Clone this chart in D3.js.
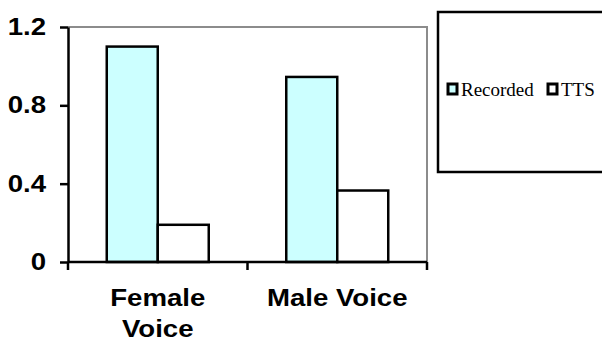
<!DOCTYPE html>
<html>
<head>
<meta charset="utf-8">
<script src="https://cdn.jsdelivr.net/npm/d3@7"></script>
<style>
  html, body { margin: 0; padding: 0; background: #fff; }
  svg { display: block; }
</style>
</head>
<body>
<svg id="chart" width="602" height="349"></svg>
<script>
// Mean scores per voice, for recorded speech and synthesized (TTS) speech
const categories = ["Female Voice", "Male Voice"];
const categoryLines = [["Female", "Voice"], ["Male Voice"]];
const seriesNames = ["Recorded", "TTS"];
const recordedValues = [1.10, 0.945];
const ttsValues = [0.19, 0.365];
const yTicks = [0, 0.4, 0.8, 1.2];
const seriesFill = ["#ccffff", "#ffffff"];

const svg = d3.select("#chart");
const plot = { left: 68, right: 427, top: 27, bottom: 262 };
const axisFont = "Arial, 'Liberation Sans', sans-serif";
const axisFontSize = 23;
const widen = 1.2; // horizontal stretch of the axis lettering

const y = d3.scaleLinear().domain([0, 1.2]).range([plot.bottom, plot.top]);
const x0 = d3.scaleBand().domain(categories).range([plot.left, plot.right]).padding(0);
const x1 = d3.scaleBand().domain(seriesNames).range([0, x0.bandwidth()])
  .paddingInner(0).paddingOuter(0.76);

const rows = categories.map((c, i) => ({
  category: c,
  values: [
    { series: "Recorded", value: recordedValues[i] },
    { series: "TTS", value: ttsValues[i] }
  ]
}));

// Plot-area frame: grey top and right edges
svg.append("path")
  .attr("d", `M${plot.left},${plot.top}H${plot.right}V${plot.bottom}`)
  .attr("fill", "none")
  .attr("stroke", "#8c8c8c")
  .attr("stroke-width", 2);

// Bars
const groups = svg.append("g").selectAll("g")
  .data(rows).join("g")
  .attr("transform", d => `translate(${x0(d.category)},0)`);

groups.selectAll("rect")
  .data(d => d.values).join("rect")
  .attr("x", d => x1(d.series))
  .attr("width", x1.bandwidth())
  .attr("y", d => y(d.value))
  .attr("height", d => y(0) - y(d.value))
  .attr("fill", (d, i) => seriesFill[i])
  .attr("stroke", "#000")
  .attr("stroke-width", 2.5);

// Y axis
const tickLen = 8, tickPad = 14;
const yAxis = svg.append("g")
  .attr("transform", `translate(${plot.left},0)`)
  .call(d3.axisLeft(y).tickValues(yTicks).tickFormat(d => d === 0 ? "0" : d3.format(".1f")(d))
    .tickSizeInner(tickLen).tickSizeOuter(0).tickPadding(tickPad));
yAxis.select(".domain").attr("stroke", "#000").attr("stroke-width", 2.5);
yAxis.selectAll(".tick line").attr("stroke", "#000").attr("stroke-width", 2.5);
yAxis.selectAll(".tick text")
  .attr("x", 0)
  .attr("transform", `translate(${-(tickLen + tickPad)},0) scale(${widen},1)`)
  .attr("font-family", axisFont)
  .attr("font-weight", "bold")
  .attr("font-size", axisFontSize)
  .attr("fill", "#000");

// X axis: ticks at the category boundaries
const boundaries = [plot.left, ...categories.map(c => x0(c) + x0.bandwidth())];
const xAxisG = svg.append("g");
xAxisG.append("line")
  .attr("x1", plot.left).attr("x2", plot.right)
  .attr("y1", plot.bottom).attr("y2", plot.bottom)
  .attr("stroke", "#000").attr("stroke-width", 2.5);
xAxisG.selectAll("line.tick")
  .data(boundaries).join("line")
  .attr("class", "tick")
  .attr("x1", d => d).attr("x2", d => d)
  .attr("y1", plot.bottom).attr("y2", plot.bottom + 8)
  .attr("stroke", "#000").attr("stroke-width", 2.5);

const labels = xAxisG.selectAll("text")
  .data(categories).join("text")
  .attr("transform", d => `translate(${x0(d) + x0.bandwidth() / 2},${plot.bottom + 44}) scale(${widen},1)`)
  .attr("text-anchor", "middle")
  .attr("font-family", axisFont)
  .attr("font-weight", "bold")
  .attr("font-size", axisFontSize)
  .attr("fill", "#000");
labels.selectAll("tspan")
  .data((d, i) => categoryLines[i]).join("tspan")
  .attr("x", 0)
  .attr("dy", (d, i) => i === 0 ? 0 : 31)
  .text(d => d);

// Legend
const legend = svg.append("g");
legend.append("rect")
  .attr("x", 438).attr("y", 12)
  .attr("width", 180).attr("height", 160)
  .attr("fill", "#fff")
  .attr("stroke", "#000").attr("stroke-width", 2.5);

const legendX = [448, 548];
const items = legend.selectAll("g.item")
  .data(seriesNames).join("g")
  .attr("class", "item")
  .attr("transform", (d, i) => `translate(${legendX[i]},84)`);
items.append("rect")
  .attr("width", 9).attr("height", 10)
  .attr("fill", (d, i) => seriesFill[i])
  .attr("stroke", "#000").attr("stroke-width", 3);
items.append("text")
  .attr("x", 13).attr("y", 12)
  .attr("font-family", "'Times New Roman', 'Liberation Serif', serif")
  .attr("font-size", 19)
  .attr("fill", "#000")
  .text(d => d);
</script>
</body>
</html>
